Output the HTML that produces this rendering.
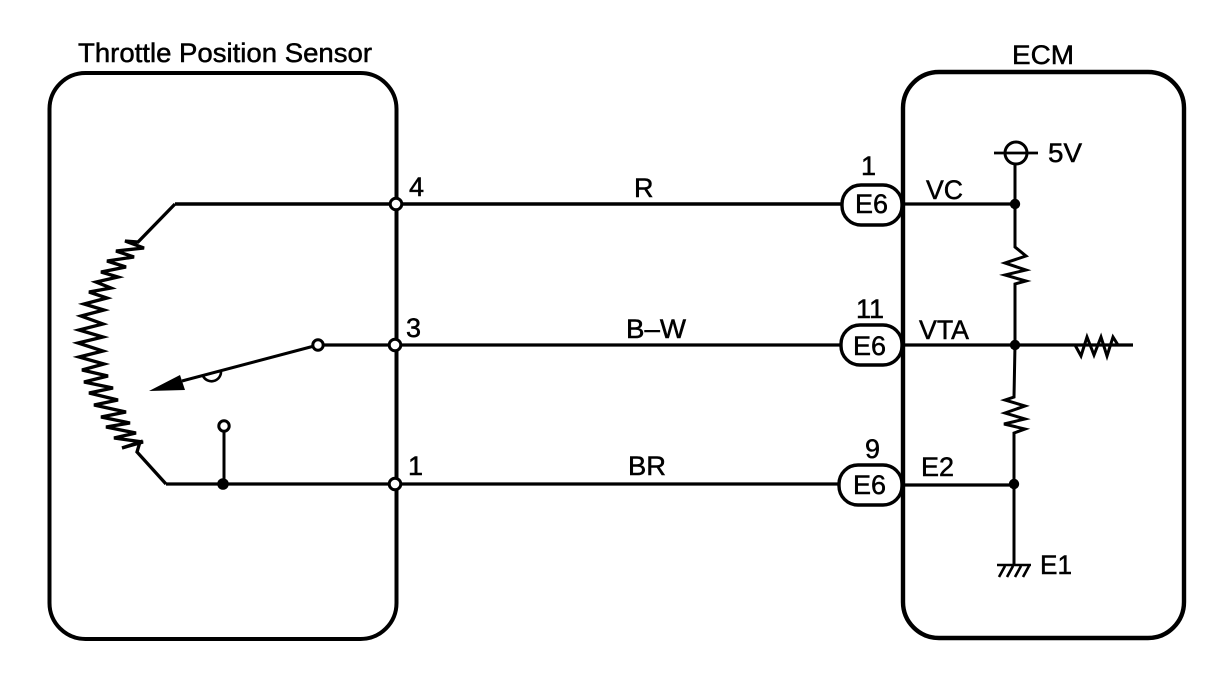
<!DOCTYPE html>
<html lang="en">
<head>
<meta charset="utf-8">
<title>Throttle Position Sensor circuit</title>
<style>
html,body{margin:0;padding:0;background:#fff;width:1216px;height:676px;overflow:hidden}
svg{display:block}
text{font-family:"Liberation Sans",sans-serif;fill:#000;stroke:#000;stroke-width:.5px}
</style>
</head>
<body>
<svg width="1216" height="676" viewBox="0 0 1216 676" xmlns="http://www.w3.org/2000/svg">
<rect width="1216" height="676" fill="#fff"/>
<g fill="none" stroke="#000" stroke-linejoin="miter">
  <!-- Boxes -->
  <rect x="49.5" y="73" width="347" height="566" rx="36" ry="36" stroke-width="4"/>
  <rect x="903" y="72" width="281" height="566" rx="36" ry="36" stroke-width="4.4"/>
  <!-- Wires -->
  <path d="M175 204H842" stroke-width="3.4"/>
  <path d="M318 345H842" stroke-width="3.2"/>
  <path d="M166 484H842" stroke-width="3.2"/>
  <!-- Resistor arc -->
  <path stroke-width="3.3" d="M175 204L138 242L125 241L144 248L116 251L134 257L107 261L126 267L101 272L118 277L96 282L111 288L89 292L107 298L84 304L104 310L81 316L103 324L79 330L103 337L78 343L103 351L79 357L104 364L82 370L108 376L84 382L113 388L89 393L118 400L94 405L126 412L101 417L130 423L106 427L136 433L114 438L143 442L122 448L140 442L137 452L166 484"/>
  <!-- Wiper -->
  <path d="M318 345L182 381" stroke-width="3"/>
  <path d="M203 376A9.5 9.5 0 0 0 221 372" stroke-width="2.6"/>
  <!-- Lower contact -->
  <path d="M224 426V484" stroke-width="3"/>
  <!-- ECM wires -->
  <path d="M903 204H1016M903 345H1133M903 485H1015" stroke-width="3.2"/>
  <path d="M1015 163V247L1026 256L1005 263L1026 270L1005 275L1026 281L1015 284V345L1014 397L1005 400L1025 406L1005 413L1025 419L1004 424L1025 429L1014 433V565" stroke-width="3"/>
  <path d="M994 153H1038" stroke-width="2.8"/>
  <circle cx="1016" cy="153" r="11" stroke-width="3"/>
  <path d="M1075 345L1081 356L1087 337L1094 355L1101 337L1107 356L1113 337L1118 345" stroke-width="3"/>
  <!-- Ground -->
  <path d="M997 565H1031M1005 566L999 577M1013 566L1007 577M1021 566L1015 577M1029 566L1023 577" stroke-width="2.6"/>
</g>
<polygon points="149,391 180,375 185,390" fill="#000"/>
<!-- Pills -->
<g fill="#fff" stroke="#000" stroke-width="3.4">
  <rect x="842" y="185" width="60" height="40" rx="19"/>
  <rect x="841" y="325" width="61" height="40" rx="19"/>
  <rect x="839" y="465" width="63" height="40" rx="19"/>
</g>
<!-- Open nodes -->
<g fill="#fff" stroke="#000" stroke-width="3">
  <circle cx="396" cy="204" r="5.8"/>
  <circle cx="395" cy="345" r="5.8"/>
  <circle cx="395" cy="484" r="5.8"/>
  <circle cx="318" cy="345" r="5.2"/>
  <circle cx="224" cy="426" r="5.2"/>
</g>
<!-- Junction dots -->
<g fill="#000">
  <circle cx="223" cy="484" r="5.8"/>
  <circle cx="1015" cy="204" r="5.2"/>
  <circle cx="1015" cy="345" r="5.2"/>
  <circle cx="1014" cy="484" r="5.2"/>
</g>
<!-- Labels -->
<g font-size="27">
  <text x="78" y="62" textLength="294" lengthAdjust="spacingAndGlyphs">Throttle Position Sensor</text>
  <text x="1012" y="64" textLength="62" lengthAdjust="spacingAndGlyphs">ECM</text>
  <text x="409" y="196">4</text>
  <text x="406" y="337">3</text>
  <text x="408" y="475">1</text>
  <text x="634" y="197">R</text>
  <text x="626" y="338" textLength="60" lengthAdjust="spacingAndGlyphs">B–W</text>
  <text x="628" y="475" textLength="38" lengthAdjust="spacingAndGlyphs">BR</text>
  <text x="861" y="175">1</text>
  <text x="856" y="318" textLength="28" lengthAdjust="spacingAndGlyphs">11</text>
  <text x="865" y="458">9</text>
  <text x="855" y="213" textLength="33" lengthAdjust="spacingAndGlyphs">E6</text>
  <text x="853" y="355" textLength="33" lengthAdjust="spacingAndGlyphs">E6</text>
  <text x="853" y="494" textLength="33" lengthAdjust="spacingAndGlyphs">E6</text>
  <text x="926" y="199" textLength="37" lengthAdjust="spacingAndGlyphs">VC</text>
  <text x="919" y="339" textLength="50" lengthAdjust="spacingAndGlyphs">VTA</text>
  <text x="921" y="476" textLength="33" lengthAdjust="spacingAndGlyphs">E2</text>
  <text x="1048" y="162" textLength="34" lengthAdjust="spacingAndGlyphs">5V</text>
  <text x="1040" y="574" textLength="32" lengthAdjust="spacingAndGlyphs">E1</text>
</g>
</svg>
</body>
</html>
